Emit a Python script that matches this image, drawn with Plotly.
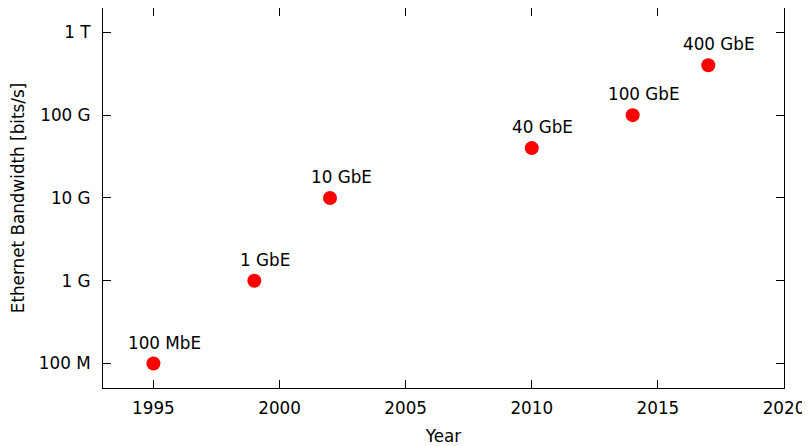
import math
import plotly.graph_objects as go

years = [1995, 1999, 2002, 2010, 2014, 2017]
bandwidth = [1e8, 1e9, 1e10, 4e10, 1e11, 4e11]
names = ["100 MbE", "1 GbE", "10 GbE", "40 GbE", "100 GbE", "400 GbE"]

x_ticks = [1995, 2000, 2005, 2010, 2015, 2020]
y_ticks = [1e8, 1e9, 1e10, 1e11, 1e12]
y_tick_labels = ["100 M", "1 G", "10 G", "100 G", "1 T"]

FONT = "DejaVu Sans"
FS = 16.8

fig = go.Figure()
fig.add_trace(go.Scatter(
    x=years, y=bandwidth, mode="markers",
    marker=dict(color="#ff0000", size=14, line=dict(width=0)),
    showlegend=False, hoverinfo="skip",
))

for xv, yv, t in zip(years, bandwidth, names):
    fig.add_annotation(x=xv, y=math.log10(yv), yref="y", xref="x", text=t, showarrow=False,
                       xshift=11, yshift=21, font=dict(family=FONT, size=FS, color="#000"))

axis_common = dict(
    showline=True, linecolor="black", linewidth=1, mirror="allticks",
    ticks="inside", ticklen=8, tickwidth=1, tickcolor="black",
    showgrid=False, zeroline=False, automargin=False,
    tickfont=dict(family=FONT, size=FS, color="#000"),
)

fig.update_xaxes(range=[1993, 2020], tickvals=x_ticks,
                 ticktext=[str(v) for v in x_ticks],
                 title=dict(text="Year", font=dict(family=FONT, size=FS, color="#000"), standoff=14),
                 ticklabelstandoff=5, **axis_common)
fig.update_yaxes(type="log", range=[7.705, 12.294], tickvals=y_ticks, ticktext=y_tick_labels,
                 title=dict(text="Ethernet Bandwidth [bits/s]", font=dict(family=FONT, size=FS, color="#000"), standoff=14),
                 ticklabelstandoff=8, **axis_common)

# the page body has an 8px margin, so the figure is sized to fit the 810x446 window
fig.update_layout(
    width=802, height=438,
    margin=dict(l=95, r=26, t=0, b=58),
    paper_bgcolor="white", plot_bgcolor="white",
    font=dict(family=FONT, size=FS, color="#000"),
)

fig.write_html("out.html")
